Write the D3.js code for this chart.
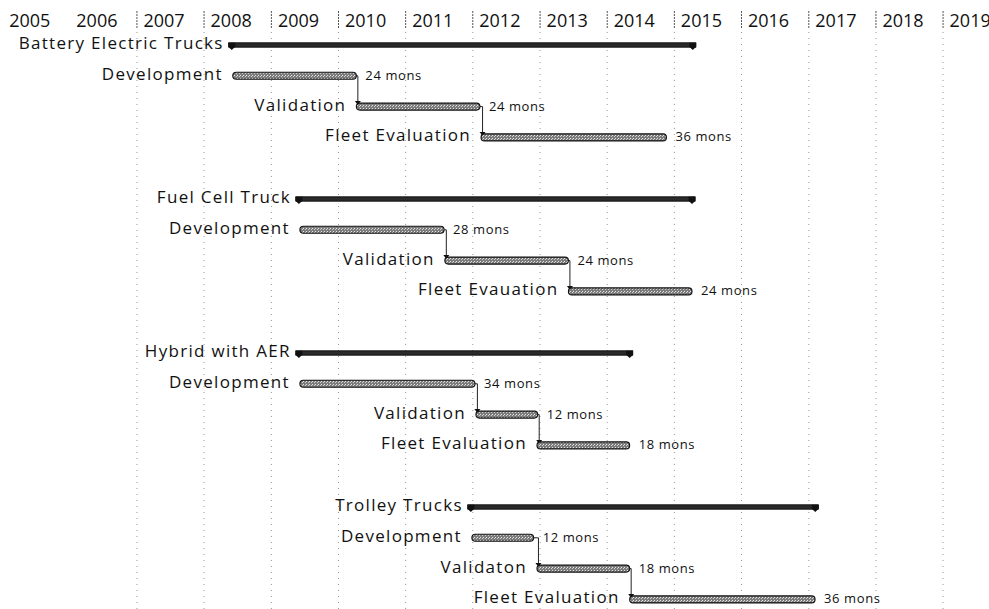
<!DOCTYPE html>
<html><head><meta charset="utf-8">
<script src="https://cdn.jsdelivr.net/npm/d3@7"></script>
<style>
body{margin:0;background:#fff;}
svg{display:block;}
text{font-family:"Open Sans","Noto Sans",sans-serif;fill:#111;}
</style>
</head><body>
<svg id="chart" width="989" height="609"></svg>
<script>
// ---------------- data ----------------
const years = ["2005","2006","2007","2008","2009","2010","2011","2012","2013","2014","2015","2016","2017","2018","2019"];
const gridYears = ["2007","2008","2009","2010","2011","2012","2013","2014","2015","2016","2017","2018","2019"];

const groupNames   = ["Battery Electric Trucks", "Fuel Cell Truck", "Hybrid with AER", "Trolley Trucks"];
const summaryStart = ["2008-06-05", "2009-06-05", "2009-06-05", "2011-12-27"];
const summaryEnd   = ["2015-04-11", "2015-04-07", "2014-05-03", "2017-02-05"];

const taskNames = [
  ["Development", "Validation", "Fleet Evaluation"],
  ["Development", "Validation", "Fleet Evauation"],
  ["Development", "Validation", "Fleet Evaluation"],
  ["Development", "Validaton",  "Fleet Evaluation"]
];
const taskStart = [
  ["2008-06-05", "2010-04-08", "2012-02-15"],
  ["2009-06-05", "2011-08-02", "2013-06-04"],
  ["2009-06-05", "2012-01-18", "2012-12-15"],
  ["2011-12-27", "2012-12-15", "2014-05-03"]
];
const taskMons = [
  [24, 24, 36],
  [28, 24, 24],
  [34, 12, 18],
  [12, 18, 36]
];
const durationUnit = "mons";
const DAYS_PER_MON = 28; // project "mon" = 20 working days = 4 weeks

// ---------------- setup ----------------
const W = 989, H = 609;
const parse = d3.timeParse("%Y-%m-%d");
const parseY = d3.timeParse("%Y");
const svg = d3.select("#chart");

const x = d3.scaleTime()
  .domain([parseY("2005"), parseY("2020")])
  .range([2.66, 2.66 + 15 * 67.17]);
const y = d3.scaleLinear().domain([0, 18]).range([45, 599.4]);

const addDays = (d, n) => d3.timeDay.offset(d, n);

// pattern for task bars (scanned dither look)
const defs = svg.append("defs");
const pat = defs.append("pattern").attr("id", "dither")
  .attr("width", 3).attr("height", 3).attr("patternUnits", "userSpaceOnUse");
pat.append("rect").attr("width", 3).attr("height", 3).attr("fill", "#7c7c7c");
pat.append("rect").attr("x", 0).attr("y", 0).attr("width", 1).attr("height", 1).attr("fill", "#e6e6e6");
pat.append("rect").attr("x", 2).attr("y", 1).attr("width", 1).attr("height", 1).attr("fill", "#d0d0d0");

// ---------------- gridlines ----------------
const gridG = svg.append("g");
gridG.selectAll("line.body").data(gridYears).join("line")
  .attr("class", "body")
  .attr("x1", d => x(parseY(d))).attr("x2", d => x(parseY(d)))
  .attr("y1", 32).attr("y2", H)
  .attr("stroke", "#999").attr("stroke-width", 1)
  .attr("stroke-dasharray", "1 5");
gridG.selectAll("line.head").data(gridYears).join("line")
  .attr("class", "head")
  .attr("x1", d => x(parseY(d))).attr("x2", d => x(parseY(d)))
  .attr("y1", 11).attr("y2", 29)
  .attr("stroke", "#555").attr("stroke-width", 1)
  .attr("stroke-dasharray", "2 1");

// ---------------- header (year axis) ----------------
const axis = d3.axisTop(x)
  .tickValues(years.map(parseY))
  .tickFormat(d3.timeFormat("%Y"))
  .tickSize(0);
const axG = svg.append("g").attr("transform", "translate(0,27)").call(axis);
axG.select(".domain").remove();
axG.selectAll("text")
  .attr("text-anchor", "start")
  .attr("dx", 6).attr("dy", 0).attr("y", 0)
  .style("font-size", "18px")
  .style("font-family", "'Open Sans', sans-serif")
  .attr("fill", "#111");

// ---------------- rows ----------------
const summaries = groupNames.map((name, g) => ({
  name, row: g * 5, start: parse(summaryStart[g]), end: parse(summaryEnd[g])
}));
const tasks = [];
taskNames.forEach((names, g) => names.forEach((name, j) => {
  const s = parse(taskStart[g][j]);
  tasks.push({ name, g, j, row: g * 5 + 1 + j, start: s,
    end: addDays(s, taskMons[g][j] * DAYS_PER_MON), mons: taskMons[g][j] });
}));

// connectors (finish-to-start)
const links = [];
for (let g = 0; g < 4; g++) for (let j = 0; j < 2; j++) {
  links.push({ a: tasks[g * 3 + j], b: tasks[g * 3 + j + 1] });
}
const linkG = svg.append("g");
links.forEach(l => {
  const xe = x(l.a.end), xs = Math.max(x(l.b.start), xe) + 1.5;
  const y1 = y(l.a.row), y2 = y(l.b.row) - 4.5;
  linkG.append("path")
    .attr("d", `M${xe},${y1}H${xs}V${y2}`)
    .attr("fill", "none").attr("stroke", "#222").attr("stroke-width", 1);
  linkG.append("path")
    .attr("d", `M${xs - 3},${y2 - 1}L${xs + 3},${y2 - 1}L${xs},${y2 + 3}Z`)
    .attr("fill", "#111");
});

// summary bars
const sumG = svg.append("g");
summaries.forEach(s => {
  const x0 = x(s.start) - 4, x1 = x(s.end) + 3, yc = y(s.row);
  sumG.append("rect").attr("x", x0).attr("y", yc - 2.2)
    .attr("width", x1 - x0).attr("height", 4.4)
    .attr("fill", "#2a2a2a").attr("stroke", "#000").attr("stroke-width", 0.8);
  [x0 + 3, x1 - 3].forEach(cx => {
    sumG.append("path")
      .attr("d", `M${cx - 3.5},${yc - 2.2}H${cx + 3.5}V${yc + 1.8}L${cx},${yc + 5}L${cx - 3.5},${yc + 1.8}Z`)
      .attr("fill", "#111");
  });
  sumG.append("text")
    .attr("x", x0 - 5).attr("y", yc + 4.3)
    .attr("text-anchor", "end")
    .style("font-size", "17px").style("letter-spacing", "1.3px")
    .text(s.name);
});

// task bars
const taskG = svg.append("g");
taskG.selectAll("rect").data(tasks).join("rect")
  .attr("x", d => x(d.start)).attr("y", d => y(d.row) - 3.5)
  .attr("width", d => x(d.end) - x(d.start)).attr("height", 7)
  .attr("rx", 3.5).attr("ry", 3.5)
  .attr("fill", "url(#dither)").attr("stroke", "#111").attr("stroke-width", 1.1);

taskG.selectAll("text.name").data(tasks).join("text")
  .attr("class", "name")
  .attr("x", d => x(d.start) - 10).attr("y", d => y(d.row) + 4)
  .attr("text-anchor", "end")
  .style("font-size", "17px").style("letter-spacing", "1.3px")
  .text(d => d.name);

taskG.selectAll("text.dur").data(tasks).join("text")
  .attr("class", "dur")
  .attr("x", d => x(d.end) + 9).attr("y", d => y(d.row) + 4)
  .attr("text-anchor", "start")
  .style("font-size", "13px").style("letter-spacing", "0.6px")
  .text(d => `${d.mons} ${durationUnit}`);
</script>
</body></html>
